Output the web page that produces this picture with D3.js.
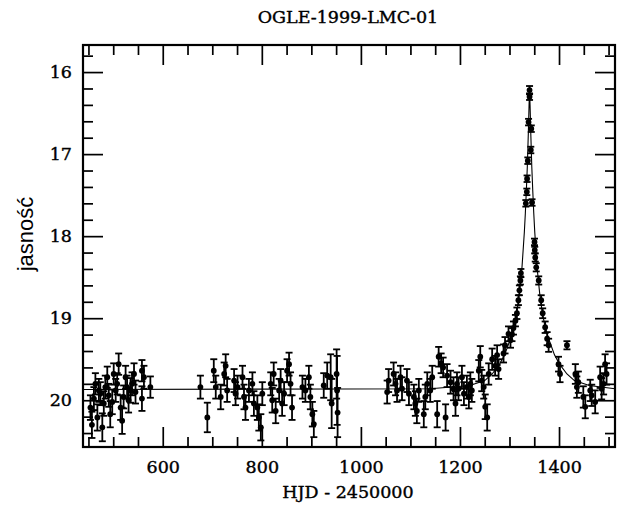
<!DOCTYPE html>
<html>
<head>
<meta charset="utf-8">
<script src="https://cdn.jsdelivr.net/npm/d3@7"></script>
<style>
  body { margin: 0; background: #fff; }
</style>
</head>
<body>
<div id="chart"></div>
<script>
// pomiary: HJD-2450000, jasność, błąd
const hjd = [
  454, 457, 461, 464, 468, 471, 474, 478, 481, 484, 488, 491, 494, 498, 501, 505, 508, 511, 515, 518,
  521, 525, 528, 531, 535, 538, 542, 545, 558, 558, 562, 575,
  676, 690, 703, 707, 717, 724, 727, 730, 744, 747, 751, 761, 764, 767, 774, 781, 784, 791, 794, 798,
  801, 818, 821, 824, 828, 835, 838, 841, 845, 851, 855, 858, 861, 882, 888, 895, 898, 902, 905, 925,
  932, 939, 941, 951, 952, 953,
  1053, 1056, 1066, 1070, 1073, 1080, 1083, 1093, 1097, 1107, 1110, 1113, 1117, 1127, 1130, 1134, 1140,
  1144, 1154, 1157, 1162, 1166, 1171, 1174, 1181, 1187, 1191, 1194, 1197, 1204, 1208, 1214, 1218, 1221, 1224,
  1238, 1241, 1244, 1248, 1251, 1255, 1258, 1265, 1271, 1275, 1278, 1288, 1291, 1298, 1302, 1305, 1308,
  1312, 1315, 1318, 1320, 1322, 1323,
  1333, 1335, 1335.5, 1337, 1338.5, 1340.5, 1340.5, 1343, 1344, 1345.5,
  1350.5, 1351, 1352, 1354, 1359, 1364, 1367, 1372, 1376, 1379, 1399, 1402, 1416, 1433, 1436, 1439,
  1449, 1453, 1463, 1466, 1473, 1483, 1486, 1490, 1493, 1496
];
const mag = [
  20.09, 20.30, 19.98, 19.80, 20.21, 19.88, 19.92, 20.33, 20.04, 19.84, 19.72, 19.94, 20.17, 20.02, 19.68, 19.88, 19.80, 19.56, 20.09, 20.25,
  19.96, 19.72, 19.84, 20.00, 19.88, 19.80, 19.68, 19.90, 19.64, 19.98, 19.72, 19.84,
  19.84, 20.21, 19.64, 19.84, 19.96, 19.68, 19.58, 19.88, 19.76, 19.92, 19.84, 19.72, 19.96, 20.09, 19.88, 19.80, 20.04, 20.09, 20.21, 20.33,
  19.92, 19.80, 20.00, 19.68, 20.13, 19.88, 19.76, 20.04, 19.92, 19.64, 19.56, 19.80, 20.09, 19.84, 19.88, 19.72, 19.96, 20.17, 20.29, 19.82,
  19.70, 19.72, 20.04, 19.68, 19.88, 20.15,
  19.90, 19.76, 19.68, 19.80, 19.88, 19.72, 19.86, 19.76, 19.92, 19.96, 20.04, 20.13, 19.88, 20.17, 19.96, 19.80, 19.88,
  19.72, 20.17, 19.47, 19.55, 19.60, 20.21, 19.70, 19.78, 19.86, 20.04, 19.80, 19.86, 19.72, 19.92, 19.84, 19.96, 19.80, 19.88,
  19.64, 19.47, 19.76, 19.84, 20.08, 20.21, 19.68, 19.50, 19.58, 19.45, 19.62, 19.43, 19.33, 19.19, 19.27, 19.20, 19.12,
  19.03, 18.94, 18.78, 18.66, 18.54, 18.45,
  17.60, 17.46, 17.30, 17.08, 16.61, 16.30, 16.22, 16.95, 16.69, 17.59,
  18.07, 18.17, 18.26, 18.38, 18.54, 18.78, 18.94, 19.11, 19.25, 19.33, 19.56, 19.68, 19.33, 19.68, 19.84, 19.78,
  19.96, 20.08, 19.88, 19.94, 20.02, 19.72, 19.86, 19.80, 19.56, 19.68
];
const magErr = [
  .15, .16, .14, .13, .16, .14, .14, .17, .15, .14, .13, .14, .16, .15, .13, .14, .13, .13, .15, .16,
  .14, .14, .14, .15, .15, .14, .13, .14, .13, .15, .14, .13,
  .14, .18, .14, .14, .15, .14, .14, .14, .14, .14, .14, .14, .15, .15, .14, .14, .15, .15, .16, .16,
  .14, .14, .15, .14, .15, .14, .14, .15, .14, .14, .14, .14, .15, .14, .14, .14, .15, .15, .16, .15,
  .16, .28, .30, .30, .42, .30,
  .14, .14, .14, .14, .14, .14, .14, .14, .14, .15, .15, .15, .14, .16, .15, .14, .14,
  .14, .16, .12, .12, .12, .16, .14, .14, .14, .15, .14, .14, .14, .14, .14, .14, .14, .14,
  .13, .13, .13, .14, .15, .16, .13, .13, .12, .12, .12, .11, .10, .09, .09, .08, .08,
  .07, .07, .06, .06, .05, .05,
  .04, .04, .04, .04, .04, .04, .05, .04, .04, .04,
  .04, .04, .05, .05, .05, .06, .06, .07, .08, .08, .09, .10, .05, .12, .13, .13,
  .13, .14, .13, .13, .14, .13, .13, .13, .12, .13
];

// dopasowana krzywa
const modelHjd = [439, 1140, 1220, 1250, 1265, 1280, 1290, 1302, 1310, 1315, 1320, 1325, 1330, 1332, 1334, 1336, 1338,
  1339.5, 1340.5, 1341.5, 1343, 1345, 1347, 1349, 1351, 1356, 1361, 1366, 1371, 1379, 1391, 1401, 1416, 1431, 1461, 1513];
const modelMag = [19.87, 19.86, 19.82, 19.76, 19.68, 19.56, 19.45, 19.25, 19.08, 18.92, 18.70, 18.40, 17.95, 17.72, 17.45, 17.15, 16.75,
  16.40, 16.22, 16.40, 16.75, 17.15, 17.45, 17.72, 17.95, 18.40, 18.70, 18.92, 19.08, 19.25, 19.45, 19.56, 19.68, 19.76, 19.82, 19.86];

const xMajor = [600, 800, 1000, 1200, 1400];
const xMinor = [450, 500, 550, 650, 700, 750, 850, 900, 950, 1050, 1100, 1150, 1250, 1300, 1350, 1450, 1500];
const yMajor = [16, 17, 18, 19, 20];
const yMinor = [15.8, 16.2, 16.4, 16.6, 16.8, 17.2, 17.4, 17.6, 17.8, 18.2, 18.4, 18.6, 18.8,
  19.2, 19.4, 19.6, 19.8, 20.2, 20.4];

const width = 622, height = 509;
const plotLeft = 83, plotRight = 615, plotTop = 45, plotBottom = 447;
const serif = "'DejaVu Serif', serif";

const svg = d3.select("#chart").append("svg")
  .attr("width", width).attr("height", height)
  .style("font-family", serif);

const x = d3.scaleLinear().domain([439, 1513]).range([plotLeft, plotRight]);
const y = d3.scaleLinear().domain([15.67, 20.57]).range([plotTop, plotBottom]);

// pogrubienie tekstu jak w skanie
function heavy(sel) {
  sel.attr("fill", "#000").attr("stroke", "#000").attr("stroke-width", 0.4);
}

// tytuł
svg.append("text")
  .attr("x", 348).attr("y", 23)
  .attr("text-anchor", "middle")
  .style("font-size", "17.5px")
  .text("OGLE-1999-LMC-01")
  .call(heavy);

// osie - kreski do środka
function styleAxis(g) {
  g.select(".domain").remove();
  g.selectAll(".tick line").attr("stroke", "#000").attr("stroke-width", 1.7);
  g.selectAll(".tick text").style("font-size", "17.5px").style("font-family", serif).call(heavy);
}
const axes = [
  [d3.axisBottom, x, `translate(0,${plotBottom})`, true],
  [d3.axisTop, x, `translate(0,${plotTop})`, false],
  [d3.axisLeft, y, `translate(${plotLeft},0)`, true],
  [d3.axisRight, y, `translate(${plotRight},0)`, false]
];
axes.forEach(([axisFn, sc, tr, labels]) => {
  const isX = sc === x;
  svg.append("g").attr("transform", tr)
    .call(axisFn(sc).tickValues(isX ? xMajor : yMajor).tickSize(-20)
      .tickPadding(isX ? 14 : 11)
      .tickFormat(labels ? d3.format("d") : ""))
    .call(styleAxis);
  svg.append("g").attr("transform", tr)
    .call(axisFn(sc).tickValues(isX ? xMinor : yMinor).tickSize(-10).tickFormat(""))
    .call(styleAxis);
});

svg.append("rect")
  .attr("x", plotLeft).attr("y", plotTop)
  .attr("width", plotRight - plotLeft).attr("height", plotBottom - plotTop)
  .attr("fill", "none").attr("stroke", "#000").attr("stroke-width", 2.2);

// krzywa modelu
svg.append("path")
  .datum(modelHjd.map((t, i) => [t, modelMag[i]]))
  .attr("fill", "none").attr("stroke", "#000").attr("stroke-width", 1.1)
  .attr("d", d3.line().x(d => x(d[0])).y(d => y(d[1])));

// punkty z błędami
const pts = hjd.map((t, i) => ({ t, m: mag[i], e: magErr[i] }));
const g = svg.append("g").attr("stroke", "#000").attr("stroke-width", 1.8);
pts.forEach(p => {
  const cx = x(p.t), y1 = y(p.m - p.e), y2 = y(p.m + p.e);
  g.append("line").attr("x1", cx).attr("x2", cx).attr("y1", y1).attr("y2", y2);
  g.append("line").attr("x1", cx - 3.5).attr("x2", cx + 3.5).attr("y1", y1).attr("y2", y1);
  g.append("line").attr("x1", cx - 3.5).attr("x2", cx + 3.5).attr("y1", y2).attr("y2", y2);
});
svg.append("g").selectAll("circle").data(pts).join("circle")
  .attr("cx", d => x(d.t)).attr("cy", d => y(d.m)).attr("r", 2.9).attr("fill", "#000");

// opisy osi
svg.append("text")
  .attr("x", 348).attr("y", 498)
  .attr("text-anchor", "middle")
  .style("font-size", "17.5px")
  .text("HJD - 2450000")
  .call(heavy);

svg.append("text")
  .attr("transform", "translate(33,234) rotate(-90)")
  .attr("text-anchor", "middle")
  .style("font-family", "'Liberation Sans', Arial, sans-serif")
  .style("font-size", "22px")
  .text("jasność");
</script>
</body>
</html>
